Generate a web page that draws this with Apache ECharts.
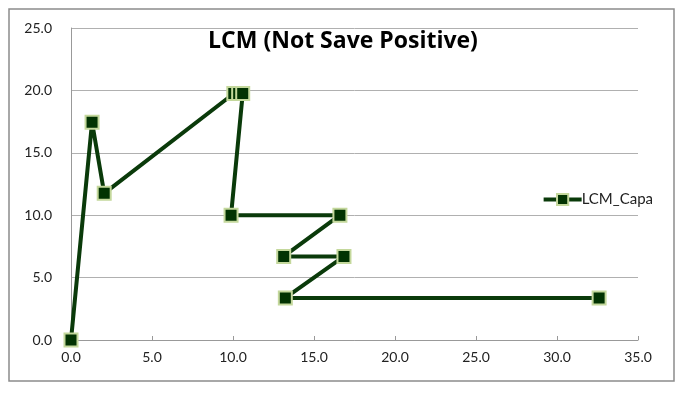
<!DOCTYPE html>
<html>
<head>
<meta charset="utf-8">
<script src="https://cdn.jsdelivr.net/npm/echarts@6/dist/echarts.min.js"></script>
<style>
html,body{margin:0;padding:0;background:#fff;}
#c{width:686px;height:394px;}
</style>
</head>
<body>
<div id="c"></div>
<script>
var xValues = [0.0, 1.3, 2.05, 10.05, 10.35, 10.6, 9.88, 16.6, 13.13, 16.85, 13.23, 32.6];
var yValues = [0.0, 17.45, 11.75, 19.75, 19.75, 19.75, 10.0, 10.0, 6.7, 6.7, 3.37, 3.37];
var seriesName = 'LCM_Capa';
var titleText = 'LCM (Not Save Positive)';

var data = xValues.map(function (x, i) { return [x, yValues[i]]; });
var font = 'Lato, "Open Sans", sans-serif';

var chart = echarts.init(document.getElementById('c'), null, {renderer: 'canvas'});
chart.setOption({
  animation: false,
  backgroundColor: '#ffffff',
  title: {
    text: titleText,
    left: 'center',
    top: 25,
    textStyle: {fontFamily: '"Open Sans", sans-serif', fontWeight: 'bold', fontSize: 23, color: '#000'}
  },
  legend: {
    right: 28,
    top: 187,
    itemWidth: 38,
    itemHeight: 14,
    itemGap: 4,
    lineStyle: {width: 4},
    textStyle: {fontFamily: font, fontSize: 15, color: '#222', padding: [0, 0, 0, -5]},
    data: [seriesName]
  },
  graphic: [{
    type: 'rect',
    shape: {x: 9, y: 9, width: 665, height: 372},
    style: {fill: 'none', stroke: '#8c8c8c', lineWidth: 1.5},
    silent: true
  }],
  grid: {left: 71, right: 48, top: 28, bottom: 54},
  xAxis: {
    type: 'value',
    min: 0, max: 35, interval: 5,
    axisLine: {show: true, lineStyle: {color: '#999', width: 1}},
    axisTick: {show: true, inside: true, length: 4, lineStyle: {color: '#999'}},
    splitLine: {show: false},
    axisLabel: {
      formatter: function (v) { return v.toFixed(1); },
      fontFamily: font, fontSize: 14, color: '#222', margin: 10
    }
  },
  yAxis: {
    type: 'value',
    min: 0, max: 25, interval: 5,
    axisLine: {show: true, lineStyle: {color: '#999', width: 1}},
    axisTick: {show: false},
    splitLine: {show: true, lineStyle: {color: '#b0b0b0', width: 1}},
    axisLabel: {
      formatter: function (v) { return v.toFixed(1); },
      fontFamily: font, fontSize: 14, color: '#222', margin: 19
    }
  },
  series: [{
    name: seriesName,
    type: 'line',
    data: data,
    symbol: 'rect',
    symbolSize: 13,
    showAllSymbol: true,
    lineStyle: {color: '#0a3a0a', width: 4},
    itemStyle: {color: '#023302', borderColor: '#c4d89c', borderWidth: 2},
    z: 3
  }]
});
</script>
</body>
</html>
